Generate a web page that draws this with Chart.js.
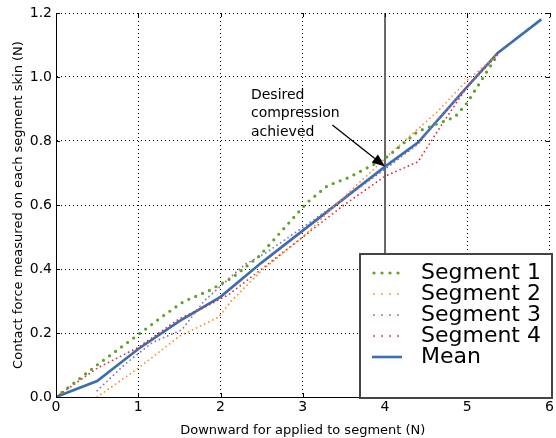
<!DOCTYPE html>
<html>
<head>
<meta charset="utf-8">
<script src="https://cdn.jsdelivr.net/npm/chart.js@4"></script>
<style>
  html, body { margin: 0; padding: 0; background: #fff; }
  #wrap { width: 556px; height: 438px; }
</style>
</head>
<body>
<div id="wrap"><canvas id="chart" width="556" height="438"></canvas></div>
<script>
// data
const seg1X = [0, 0.5, 1, 1.3, 1.55, 1.85, 2.15, 2.47, 3.05, 3.3, 3.55, 4, 4.4, 4.7, 4.85, 5, 5.37];
const seg1Y = [0, 0.1, 0.195, 0.253, 0.298, 0.331, 0.374, 0.44, 0.607, 0.66, 0.685, 0.745, 0.83, 0.86, 0.875, 0.92, 1.07];

const seg2X = [0.5, 1, 1.5, 1.98, 2.13, 2.5, 3, 3.5, 4, 4.3, 4.63, 5, 5.37];
const seg2Y = [0, 0.09, 0.19, 0.25, 0.3, 0.395, 0.5, 0.625, 0.745, 0.815, 0.89, 0.99, 1.07];

const seg3X = [0.5, 0.85, 1.17, 1.53, 1.8, 2.3, 2.55, 3, 3.5, 4, 4.4, 4.67, 5, 5.37];
const seg3Y = [0.02, 0.105, 0.17, 0.21, 0.3, 0.415, 0.45, 0.53, 0.62, 0.712, 0.79, 0.875, 0.97, 1.07];

const seg4X = [0, 0.5, 1, 1.5, 1.8, 2.1, 2.5, 3, 3.5, 4, 4.4, 4.7, 5, 5.37];
const seg4Y = [0, 0.09, 0.155, 0.245, 0.28, 0.32, 0.4, 0.5, 0.6, 0.69, 0.735, 0.855, 0.97, 1.07];

const meanX = [0, 0.5, 1, 1.5, 2, 2.5, 3, 3.5, 4, 4.4, 5, 5.37, 5.9];
const meanY = [0, 0.05, 0.15, 0.237, 0.313, 0.42, 0.52, 0.62, 0.72, 0.795, 0.97, 1.075, 1.18];

const seriesNames = ['Segment 1', 'Segment 2', 'Segment 3', 'Segment 4', 'Mean'];
const xTicks = [0, 1, 2, 3, 4, 5, 6];
const yTicks = [0, 0.2, 0.4, 0.6, 0.8, 1.0, 1.2];
const markX = 4;
const noteLines = ['Desired', 'compression', 'achieved'];
const notePos = { x: 2.37, y: 0.944 };
const arrowFrom = { x: 3.36, y: 0.85 };
const arrowTo = { x: 4, y: 0.72 };

const FONT = '"DejaVu Sans", sans-serif';

function pts(xs, ys) {
  return xs.map((x, i) => ({ x: x, y: ys[i] }));
}

function dotted(label, xs, ys, color, width, gap) {
  return {
    label: label,
    data: pts(xs, ys),
    borderColor: color,
    backgroundColor: color,
    borderWidth: width,
    borderDash: [0, gap],
    borderCapStyle: 'round',
    pointRadius: 0,
    tension: 0,
    fill: false
  };
}

const datasets = [
  dotted(seriesNames[0], seg1X, seg1Y, '#5aa42a', 3.2, 7.5),
  dotted(seriesNames[1], seg2X, seg2Y, '#ff8a1e', 1.8, 4.5),
  dotted(seriesNames[2], seg3X, seg3Y, '#8c6aa8', 1.8, 4.5),
  dotted(seriesNames[3], seg4X, seg4Y, '#e8262a', 1.8, 4.5),
  {
    label: seriesNames[4],
    data: pts(meanX, meanY),
    borderColor: '#3b6db3',
    backgroundColor: '#3b6db3',
    borderWidth: 2.6,
    pointRadius: 0,
    tension: 0,
    fill: false
  }
];

// vertical marker under the lines
const markerLine = {
  id: 'markerLine',
  beforeDatasetsDraw(chart) {
    const { ctx, chartArea, scales } = chart;
    const px = scales.x.getPixelForValue(markX);
    ctx.save();
    ctx.strokeStyle = '#666';
    ctx.lineWidth = 2;
    ctx.beginPath();
    ctx.moveTo(px, chartArea.top);
    ctx.lineTo(px, chartArea.bottom);
    ctx.stroke();
    ctx.restore();
  }
};

// inward ticks on all sides, annotation and legend
const decorations = {
  id: 'decorations',
  afterDraw(chart) {
    const { ctx, chartArea: a, scales } = chart;
    ctx.save();
    ctx.strokeStyle = '#000';
    ctx.lineWidth = 1;
    ctx.beginPath();
    xTicks.forEach(v => {
      const px = Math.round(scales.x.getPixelForValue(v)) + 0.5;
      ctx.moveTo(px, a.bottom); ctx.lineTo(px, a.bottom - 4);
      ctx.moveTo(px, a.top); ctx.lineTo(px, a.top + 4);
    });
    yTicks.forEach(v => {
      const py = Math.round(scales.y.getPixelForValue(v)) + 0.5;
      ctx.moveTo(a.left, py); ctx.lineTo(a.left + 4, py);
      ctx.moveTo(a.right, py); ctx.lineTo(a.right - 4, py);
    });
    ctx.stroke();

    // annotation
    ctx.fillStyle = '#000';
    ctx.font = '14px ' + FONT;
    ctx.textAlign = 'left';
    ctx.textBaseline = 'middle';
    const tx = scales.x.getPixelForValue(notePos.x);
    const ty = scales.y.getPixelForValue(notePos.y);
    noteLines.forEach((t, i) => ctx.fillText(t, tx, ty + i * 18.5));

    const x0 = scales.x.getPixelForValue(arrowFrom.x);
    const y0 = scales.y.getPixelForValue(arrowFrom.y);
    const x1 = scales.x.getPixelForValue(arrowTo.x);
    const y1 = scales.y.getPixelForValue(arrowTo.y);
    const ang = Math.atan2(y1 - y0, x1 - x0);
    const hl = 13, hw = 5;
    const bx = x1 - hl * Math.cos(ang), by = y1 - hl * Math.sin(ang);
    ctx.lineWidth = 1.3;
    ctx.beginPath();
    ctx.moveTo(x0, y0);
    ctx.lineTo(bx, by);
    ctx.stroke();
    ctx.beginPath();
    ctx.moveTo(x1, y1);
    ctx.lineTo(bx + hw * Math.sin(ang), by - hw * Math.cos(ang));
    ctx.lineTo(bx - hw * Math.sin(ang), by + hw * Math.cos(ang));
    ctx.closePath();
    ctx.fill();

    // legend box
    const lx = 360, ly = 254, lw = 192, lh = 144;
    ctx.fillStyle = '#fff';
    ctx.fillRect(lx, ly, lw, lh);
    ctx.strokeStyle = '#444';
    ctx.lineWidth = 2;
    ctx.strokeRect(lx, ly, lw, lh);

    ctx.font = '22px ' + FONT;
    chart.data.datasets.forEach((ds, i) => {
      const cy = 273 + i * 21;
      ctx.save();
      ctx.strokeStyle = ds.borderColor;
      ctx.lineWidth = ds.borderWidth;
      ctx.lineCap = ds.borderCapStyle || 'butt';
      if (ds.borderDash) ctx.setLineDash([0, 8]);
      ctx.beginPath();
      ctx.moveTo(ds.borderDash ? 374 : 372, cy);
      ctx.lineTo(402, cy);
      ctx.stroke();
      ctx.restore();
      ctx.fillStyle = '#000';
      ctx.fillText(ds.label, 421, cy);
    });
    ctx.restore();
  }
};

new Chart(document.getElementById('chart'), {
  type: 'line',
  data: { datasets: datasets },
  plugins: [markerLine, decorations],
  options: {
    responsive: false,
    animation: false,
    layout: { padding: { top: 13, right: 2, left: 0, bottom: 0 } },
    plugins: { legend: { display: false }, tooltip: { enabled: false } },
    scales: {
      x: {
        type: 'linear',
        min: 0,
        max: 6,
        afterFit: s => { s.height = 41; },
        afterBuildTicks: s => { s.ticks = xTicks.map(v => ({ value: v })); },
        ticks: {
          color: '#000',
          padding: 2,
          font: { family: FONT, size: 14 },
          callback: v => String(v)
        },
        grid: { color: '#000', lineWidth: 1, drawTicks: false },
        border: { display: true, color: '#000', width: 1, dash: [1, 3] },
        title: {
          display: true,
          text: 'Downward for applied to segment (N)',
          color: '#000',
          font: { family: FONT, size: 13 },
          padding: { top: 0, bottom: 0 }
        }
      },
      y: {
        min: 0,
        max: 1.2,
        afterFit: s => { s.width = 56; },
        afterBuildTicks: s => { s.ticks = yTicks.map(v => ({ value: v })); },
        ticks: {
          color: '#000',
          padding: 4,
          font: { family: FONT, size: 14 },
          callback: v => v.toFixed(1)
        },
        grid: { color: '#000', lineWidth: 1, drawTicks: false },
        border: { display: true, color: '#000', width: 1, dash: [1, 3] },
        title: {
          display: true,
          text: 'Contact force measured on each segment skin (N)',
          color: '#000',
          font: { family: FONT, size: 13 },
          padding: { top: 11, bottom: 0 }
        }
      }
    }
  }
});
</script>
</body>
</html>
